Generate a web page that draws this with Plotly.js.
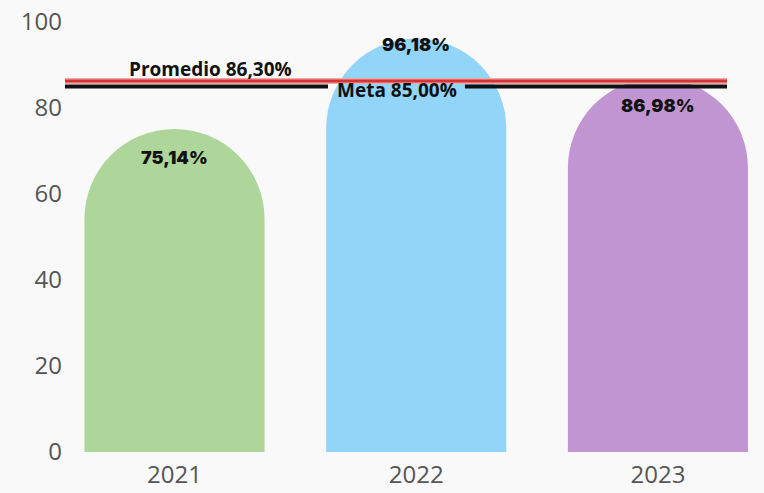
<!DOCTYPE html>
<html>
<head>
<meta charset="utf-8">
<script src="https://cdn.plot.ly/plotly-3.0.1.min.js"></script>
<style>html,body{margin:0;padding:0;background:#f9f9f9;}#chart{width:764px;height:493px;}</style>
</head>
<body>
<div id="chart"></div>
<script>
const years = ['2021', '2022', '2023'];
const values = [75.14, 96.18, 86.98];
const valueLabels = ['75,14%', '96,18%', '86,98%'];
const barColors = ['#aed69b', '#93d5f9', '#c195d2'];
const promedio = 86.30;
const promedioLabel = 'Promedio 86,30%';
const meta = 85.00;
const metaLabel = 'Meta 85,00%';
const yTicks = [0, 20, 40, 60, 80, 100];

const trace = {
  type: 'bar',
  x: years,
  y: values,
  width: 0.745,
  marker: {color: barColors, line: {width: 0}},
  hoverinfo: 'skip'
};

const labelShift = [-29, -6, -28];
const annotations = years.map((yr, i) => ({
  x: i, y: values[i], xref: 'x', yref: 'y',
  xanchor: 'center', yanchor: 'middle',
  text: valueLabels[i], showarrow: false,
  yshift: labelShift[i],
  font: {family: 'Inter, sans-serif', size: 18, color: '#111', weight: 900}
}));
annotations.push({
  x: 0.2098, xref: 'paper', y: promedio, yref: 'y', yshift: 12,
  xanchor: 'center', yanchor: 'middle',
  text: '<b>' + promedioLabel + '</b>', showarrow: false,
  font: {family: 'Open Sans, sans-serif', size: 19, color: '#111'}
});
annotations.push({
  x: 0.4784, xref: 'paper', y: meta, yref: 'y', yshift: -3.5,
  xanchor: 'center', yanchor: 'middle',
  text: '<b>' + metaLabel + '</b>', showarrow: false,
  font: {family: 'Open Sans, sans-serif', size: 19, color: '#111'}
});

const shapes = [
  {type: 'line', xref: 'paper', yref: 'y', x0: 0.0014, x1: 0.3793, y0: meta, y1: meta,
   line: {color: '#111', width: 4}},
  {type: 'line', xref: 'paper', yref: 'y', x0: 0.5761, x1: 0.9526, y0: meta, y1: meta,
   line: {color: '#111', width: 4}},
  {type: 'line', xref: 'paper', yref: 'y', x0: 0.0014, x1: 0.9526, y0: promedio, y1: promedio,
   line: {color: '#f2a7a7', width: 6}},
  {type: 'line', xref: 'paper', yref: 'y', x0: 0.0014, x1: 0.9526, y0: promedio, y1: promedio,
   line: {color: '#d23535', width: 3}}
];

const layout = {
  width: 764, height: 493,
  margin: {l: 64, r: 4, t: 22, b: 41},
  paper_bgcolor: '#f9f9f9',
  plot_bgcolor: '#f9f9f9',
  barcornerradius: '50%',
  showlegend: false,
  xaxis: {
    type: 'category', range: [-0.4572, 2.4224],
    showgrid: false, zeroline: false, showline: false, ticks: '',
    ticklabelstandoff: 6,
    tickfont: {family: 'Open Sans, sans-serif', size: 24, color: '#555'}
  },
  yaxis: {
    range: [0, 100], tickvals: yTicks,
    showgrid: false, zeroline: false, showline: false, ticks: '',
    ticklabelstandoff: 1,
    tickfont: {family: 'Open Sans, sans-serif', size: 24, color: '#555'}
  },
  shapes: shapes,
  annotations: annotations
};

Plotly.newPlot('chart', [trace], layout, {displayModeBar: false, staticPlot: true});
</script>
</body>
</html>
